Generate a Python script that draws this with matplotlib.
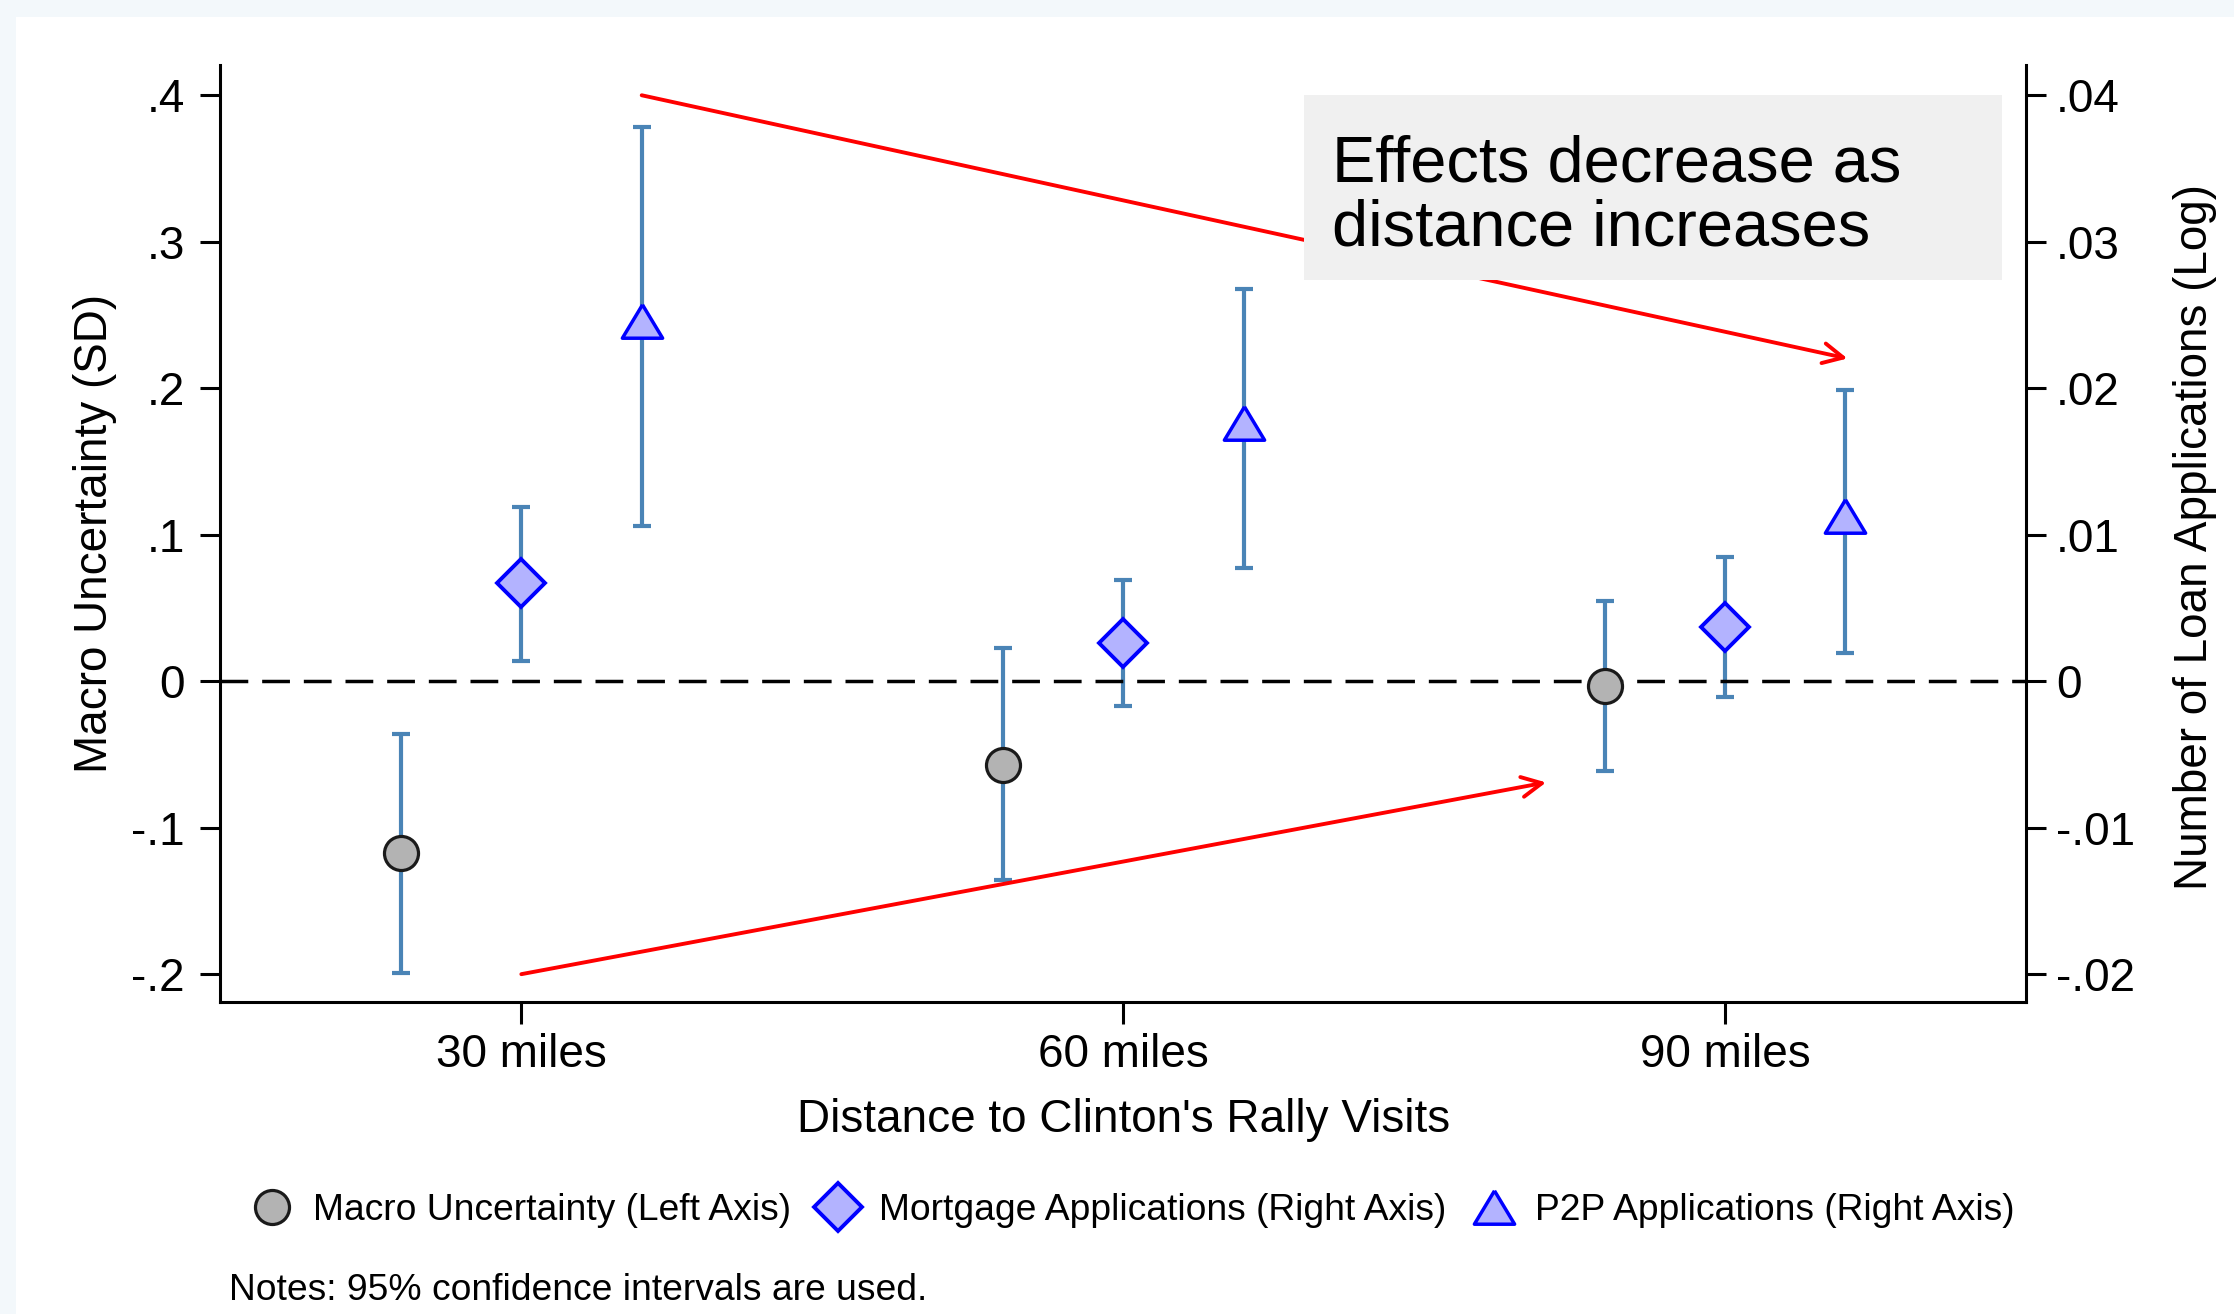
import matplotlib
matplotlib.use("Agg")
import matplotlib.pyplot as plt
import matplotlib.patches as patches
from matplotlib.ticker import FuncFormatter

plt.rcParams['font.family'] = ['Liberation Sans', 'DejaVu Sans']

# --- data ---
distances = [30, 60, 90]
x_tick_labels = ["30 miles", "60 miles", "90 miles"]

macro = [-0.117, -0.057, -0.003]
macro_lo = [-0.199, -0.136, -0.061]
macro_hi = [-0.036, 0.023, 0.055]

mortgage = [0.0067, 0.0026, 0.0037]
mortgage_lo = [0.0014, -0.0017, -0.0011]
mortgage_hi = [0.0119, 0.0069, 0.0085]

p2p = [0.0246, 0.0176, 0.0113]
p2p_lo = [0.0106, 0.0077, 0.0019]
p2p_hi = [0.0378, 0.0268, 0.0199]

left_ticks = [-0.2, -0.1, 0, 0.1, 0.2, 0.3, 0.4]
right_ticks = [-0.02, -0.01, 0, 0.01, 0.02, 0.03, 0.04]

legend_labels = ["Macro Uncertainty (Left Axis)",
                 "Mortgage Applications (Right Axis)",
                 "P2P Applications (Right Axis)"]
note_lines = ["Effects decrease as", "distance increases"]

OFFSET = 6  # horizontal shift of macro / p2p markers
BAR = '#4A84B6'
W, H = 2234, 1314


def stata_fmt(v, pos):
    s = f"{v:g}"
    return s.replace("0.", ".", 1)


def draw_series(axis, xs, ys, lo, hi, marker, ms, mfc, mec, mew, label):
    yerr = [[y - l for y, l in zip(ys, lo)], [h - y for y, h in zip(ys, hi)]]
    axis.errorbar(xs, ys, yerr=yerr, fmt='none', ecolor=BAR, elinewidth=3,
                  capsize=6.8, capthick=3, zorder=2)
    line, = axis.plot(xs, ys, linestyle='none', marker=marker, ms=ms, mfc=mfc,
                      mec=mec, mew=mew, zorder=4, label=label)
    return line


fig = plt.figure(figsize=(W / 100, H / 100), dpi=100)
fig.patch.set_facecolor('#F3F8FB')
fig.add_artist(patches.Rectangle((16 / W, 0), 1, 1 - 17 / H, transform=fig.transFigure,
                                 facecolor='white', edgecolor='none', zorder=-10))

ax = fig.add_axes([220.4 / W, (H - 1002) / H, 1805.6 / W, 937.5 / H])
ax2 = ax.twinx()
ax.set_zorder(ax2.get_zorder() + 1)
ax.patch.set_visible(False)

tri = [(0, 0.83), (-1, -0.83), (1, -0.83), (0, 0.83)]

h1 = draw_series(ax, [d - OFFSET for d in distances], macro, macro_lo, macro_hi,
                 'o', 24.5, '#B3B3B3', '#1A1A1A', 2.3, legend_labels[0])
h2 = draw_series(ax2, distances, mortgage, mortgage_lo, mortgage_hi,
                 'D', 24, '#B3B3FF', '#0000FF', 2.8, legend_labels[1])
h3 = draw_series(ax2, [d + OFFSET for d in distances], p2p, p2p_lo, p2p_hi,
                 tri, 29, '#B3B3FF', '#0000FF', 2.5, legend_labels[2])

ax.axhline(0, color='black', lw=2.5, dashes=(8, 4), zorder=3)

# red trend arrows
ax.annotate("", xy=(96.1, 0.2203), xytext=(36, 0.4),
            arrowprops=dict(arrowstyle='->', color='red', lw=2.8, mutation_scale=36,
                            shrinkA=0, shrinkB=0), zorder=5)
ax.annotate("", xy=(81.08, -0.0691), xytext=(30, -0.2),
            arrowprops=dict(arrowstyle='->', color='red', lw=2.8, mutation_scale=36,
                            shrinkA=0, shrinkB=0), zorder=5)

# grey note box
ax.add_patch(patches.Rectangle((69.0, 0.2737), 34.8, 0.1263, facecolor='#F0F0F0',
                               edgecolor='none', zorder=6))
for line_text, base_y in zip(note_lines, [0.3413, 0.2976]):
    ax.text(70.4, base_y, line_text, fontsize=46.8, va='baseline', ha='left', zorder=7)

ax.set_xlim(15, 105)
ax.set_ylim(-0.219, 0.421)
ax2.set_ylim(-0.0219, 0.0421)

ax.set_xticks(distances)
ax.set_xticklabels(x_tick_labels)
ax.set_yticks(left_ticks)
ax2.set_yticks(right_ticks)
ax.yaxis.set_major_formatter(FuncFormatter(stata_fmt))
ax2.yaxis.set_major_formatter(FuncFormatter(stata_fmt))

for s in ['top', 'right']:
    ax.spines[s].set_visible(False)
for s in ['top', 'left', 'bottom']:
    ax2.spines[s].set_visible(False)
for s in ['left', 'bottom']:
    ax.spines[s].set_linewidth(2.2)
ax2.spines['right'].set_linewidth(2.2)

ax.tick_params(axis='y', length=14.5, width=2.2, labelsize=33, pad=11)
ax.tick_params(axis='x', length=16, width=2.2, labelsize=33, pad=6)
ax2.tick_params(axis='y', length=14.5, width=2.2, labelsize=33, pad=7)

ax.set_xlabel("Distance to Clinton's Rally Visits", fontsize=33)
ax.xaxis.set_label_coords(0.5, -0.1028)
ax.set_ylabel("Macro Uncertainty (SD)", fontsize=33)
ax.yaxis.set_label_coords(-0.0573, 0.5)
ax2.set_ylabel("Number of Loan Applications (Log)", fontsize=33)
ax2.yaxis.set_label_coords(1.0815, 0.496)

fig.legend(handles=[h1, h2, h3], loc='center', bbox_to_anchor=(1134 / W, 1 - 1211 / H),
           ncol=3, frameon=False, fontsize=26.8, handlelength=1.0, handletextpad=0.6,
           columnspacing=0.78, borderpad=0, borderaxespad=0)

fig.text(229 / W, 1 - 1300.5 / H, "Notes: 95% confidence intervals are used.",
         fontsize=26.8, va='baseline', ha='left')

fig.savefig("out.png", dpi=100)
